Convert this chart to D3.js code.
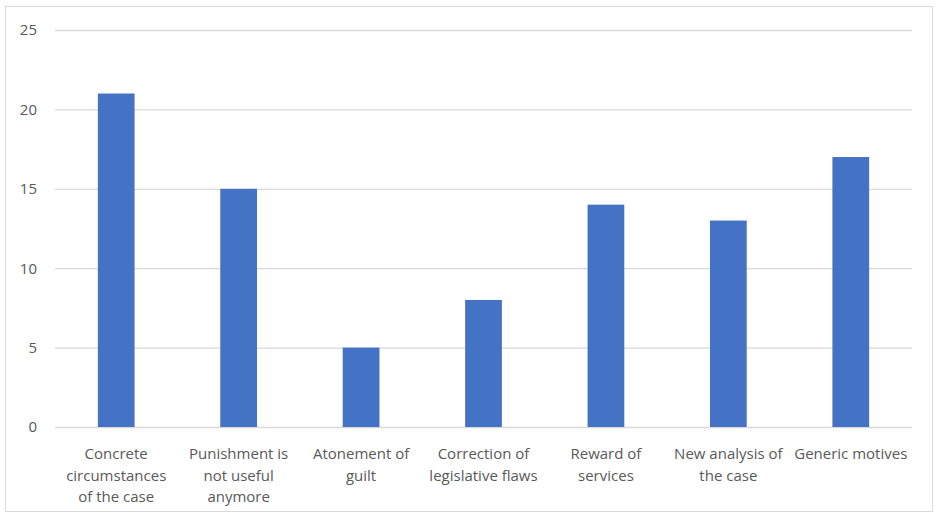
<!DOCTYPE html>
<html><head><meta charset="utf-8">
<script src="https://cdn.jsdelivr.net/npm/d3@7"></script>
<style>body{margin:0;background:#fff}</style>
</head><body><svg id="c" width="938" height="518"></svg>
<script>
const categories = ["Concrete circumstances of the case","Punishment is not useful anymore","Atonement of guilt","Correction of legislative flaws","Reward of services","New analysis of the case","Generic motives"];
const labelLines = [["Concrete","circumstances","of the case"],["Punishment is","not useful","anymore"],["Atonement of","guilt"],["Correction of","legislative flaws"],["Reward of","services"],["New analysis of","the case"],["Generic motives"]];
const values = [21,15,5,8,14,13,17];
const yTicks = [0,5,10,15,20,25];

const svg = d3.select("#c");
const m = {left:55, right:26, top:30, bottom:91};
const W = 938, H = 518;
svg.append("rect").attr("x",5.5).attr("y",6.5).attr("width",927).attr("height",505).attr("fill","#fff").attr("stroke","#d9d9d9");

const x = d3.scaleBand().domain(categories).range([m.left, W-m.right]).paddingInner(0.7).paddingOuter(0.35);
const y = d3.scaleLinear().domain([0,25]).range([H-m.bottom, m.top]);

const font = "'Open Sans', 'Liberation Sans', sans-serif";
const yAxis = svg.append("g").attr("transform",`translate(${m.left},0)`)
  .call(d3.axisLeft(y).tickValues(yTicks).tickSize(-(W-m.right-m.left)).tickPadding(18));
yAxis.select(".domain").remove();
yAxis.selectAll("line").attr("stroke","#d9d9d9").attr("stroke-width",1.3);
yAxis.selectAll("text").attr("fill","#595959").style("font-family",font).style("font-size","15px");

svg.append("g").selectAll("rect").data(values).join("rect")
  .attr("x",(d,i)=>x(categories[i]))
  .attr("y",d=>y(d))
  .attr("width",x.bandwidth())
  .attr("height",d=>y(0)-y(d))
  .attr("fill","#4472c4");

const xl = svg.append("g");
categories.forEach((c,i)=>{
  const t = xl.append("text").attr("text-anchor","middle")
    .attr("fill","#595959").style("font-family",font).style("font-size","15px");
  labelLines[i].forEach((ln,j)=>{
    t.append("tspan").attr("x", x(c)+x.bandwidth()/2).attr("y", 459 + j*21.5).text(ln);
  });
});
</script></body></html>
